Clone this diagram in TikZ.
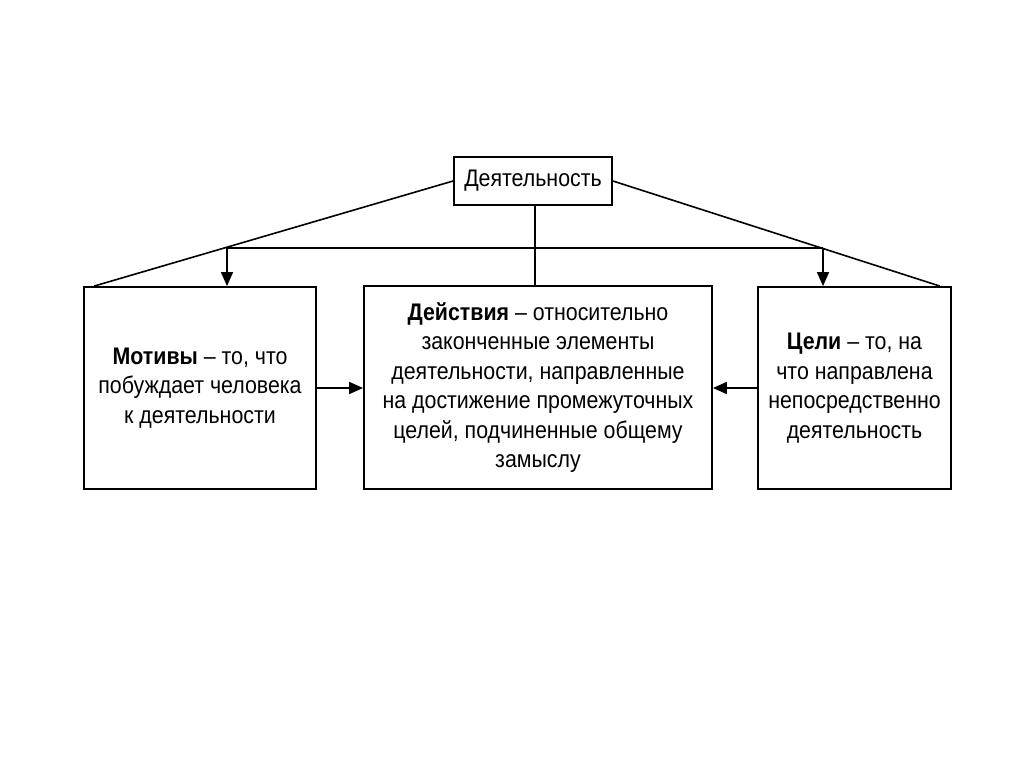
\documentclass[tikz,border=0pt]{standalone}
\usepackage{fontspec}
\setmainfont[FakeStretch=0.89]{Liberation Sans}
\usetikzlibrary{arrows.meta}
\begin{document}
\begin{tikzpicture}[x=1pt,y=-1pt,
  box/.style={draw=black, line width=1.8pt, align=center, inner sep=0pt,
    font=\fontsize{24}{29.5}\selectfont},
  conn/.style={line width=1.6pt},
  arr/.style={line width=1.6pt, -{Triangle[length=14pt,width=12pt]}}]
\useasboundingbox[fill=white] (0,0) rectangle (1024,767);
\node[box, minimum width=158pt, minimum height=48pt] (T) at (533,181) {Деятельность};
\node[box, minimum width=232pt, minimum height=202pt] (L) at (200,388)
  {\textbf{Мотивы} – то, что\\побуждает человека\\к деятельности};
\node[box, minimum width=348pt, minimum height=203pt] (C) at (538,387.5)
  {\textbf{Действия} – относительно\\законченные элементы\\деятельности, направленные\\на достижение промежуточных\\целей, подчиненные общему\\замыслу};
\node[box, minimum width=193pt, minimum height=202pt] (R) at (854.5,388)
  {\textbf{Цели} – то, на\\что направлена\\непосредственно\\деятельность};
\coordinate (hl) at (227,248);
\coordinate (hr) at (823,248);
\draw[conn] (T.west) -- ([xshift=11pt]L.north west);
\draw[conn] (T.east) -- ([xshift=-12pt]R.north east);
\draw[conn] (hl) -- (hr);
\draw[arr] (hl) -- (hl |- L.north);
\draw[arr] (hr) -- (hr |- R.north);
\draw[conn] ([xshift=2pt]T.south) -- ([xshift=2pt]T.south |- C.north);
\draw[arr] (L.east) -- (L.east -| C.west);
\draw[arr] (R.west) -- (R.west -| C.east);
\end{tikzpicture}
\end{document}
